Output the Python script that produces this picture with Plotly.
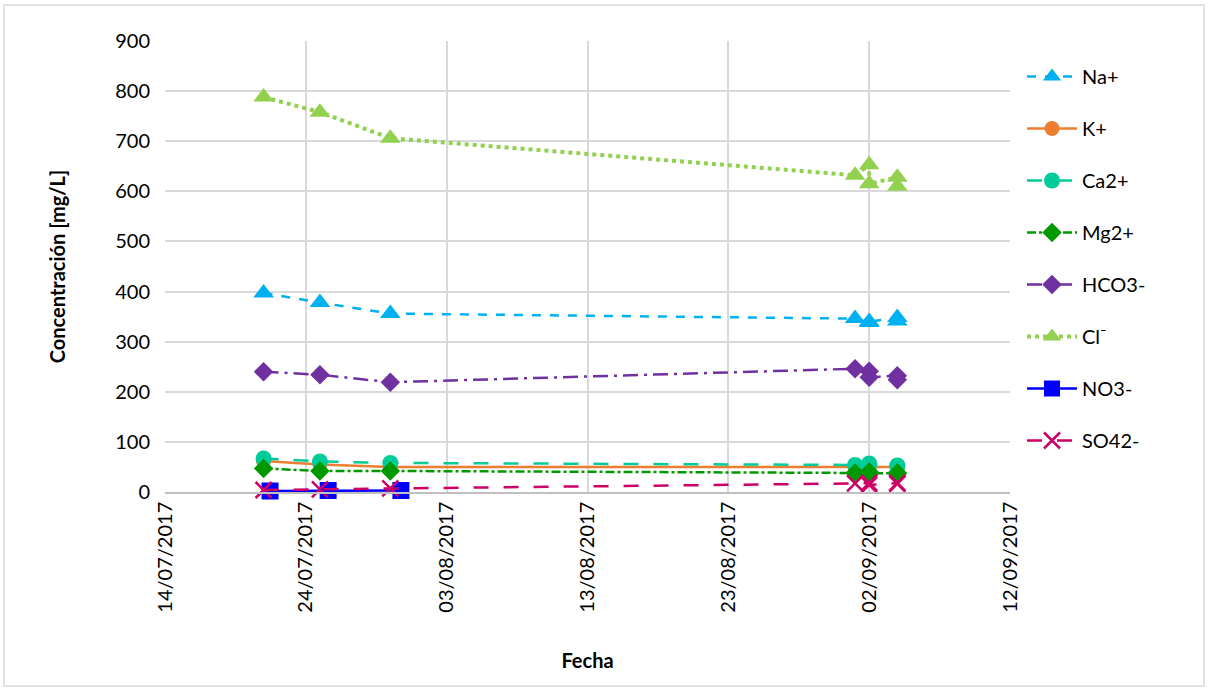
import plotly.graph_objects as go

# Sampling dates (multiple samples on 02/09 and 04/09)
fechas = ["2017-07-21", "2017-07-25", "2017-07-30", "2017-09-01",
          "2017-09-02", "2017-09-02", "2017-09-04", "2017-09-04"]
fechas_no3 = ["2017-07-21 11:00", "2017-07-25 14:00", "2017-07-30 18:00"]

na = [397, 378, 356, 346, 338, 340, 348, 341]
k = [62, 55, 50, 50, 50, 49, 50, 48]
ca = [67, 61, 58, 54, 57, 55, 53, 52]
mg = [47, 42, 42, 38, 40, 37, 38, 37]
hco3 = [240, 234, 219, 246, 241, 229, 232, 224]
cl = [788, 758, 706, 632, 653, 615, 628, 610]
no3 = [2, 3, 3]
so4 = [4, 5, 7, 17, 18, 14, 18, 16]

x_ticks = ["2017-07-14", "2017-07-24", "2017-08-03", "2017-08-13",
           "2017-08-23", "2017-09-02", "2017-09-12"]

FONT = "Lato"

series = [
    ("Na+", fechas, na, "#00B0F0", "dash", "triangle-up", 18, 2.5),
    ("K+", fechas, k, "#ED7D31", "solid", "circle", 15, 2.5),
    ("Ca2+", fechas, ca, "#00CC99", "longdash", "circle", 16, 2.5),
    ("Mg2+", fechas, mg, "#009900", "dashdot", "diamond", 15, 2.5),
    ("HCO3-", fechas, hco3, "#7030A0", "longdashdot", "diamond", 15, 2.5),
    ("Cl\u207b", fechas, cl, "#92D050", "dot", "triangle-up", 18, 4),
    ("NO3-", fechas_no3, no3, "#0000FF", "solid", "square", 17, 2.5),
    ("SO42-", fechas, so4, "#CC0066", "longdash", "x-thin", 16, 2.5),
]

fig = go.Figure()
for i, (name, xs, ys, color, dash, sym, size, lw) in enumerate(series):
    marker = dict(symbol=sym, size=size, color=color)
    if sym == "x-thin":
        marker["line"] = dict(color=color, width=2.5)
    fig.add_trace(go.Scatter(
        x=xs, y=ys, name=name, mode="lines+markers",
        line=dict(color=color, dash=dash, width=lw),
        marker=marker, legendgroup=f"g{i}", cliponaxis=False,
    ))

W, H = 1209, 690
L, R, T, B = 165, 1010, 41, 492
pw, ph = R - L, B - T

def px_x(p):
    return (p - L) / pw

def px_y(p):
    return (B - p) / ph

fig.update_layout(
    width=W, height=H,
    margin=dict(l=L, r=W - R, t=T, b=H - B),
    paper_bgcolor="white", plot_bgcolor="white",
    font=dict(family=FONT, size=20, color="black"),
    showlegend=True,
    legend=dict(
        x=px_x(1022), y=px_y(57), xanchor="left", yanchor="top",
        font=dict(size=20, family=FONT), tracegroupgap=23,
        bgcolor="rgba(0,0,0,0)", itemwidth=50,
    ),
    xaxis=dict(
        type="date", range=["2017-07-14", "2017-09-12"],
        tickvals=x_ticks, tickformat="%d/%m/%Y", tickangle=-90,
        showgrid=True, gridcolor="#D9D9D9", gridwidth=1.5,
        showline=True, linecolor="#BFBFBF", linewidth=1.5,
        zeroline=False, ticks="", tickfont=dict(size=20),
        title=dict(text="<b>Fecha</b>", font=dict(size=20), standoff=42),
    ),
    yaxis=dict(
        range=[0, 900], dtick=100, tick0=0,
        showgrid=True, gridcolor="#D9D9D9", gridwidth=1.5,
        zeroline=False, showline=False, ticks="",
        tickfont=dict(size=20), ticklabelstandoff=14,
        title=dict(text="<b>Concentración [mg/L]</b>", font=dict(size=20), standoff=44),
    ),
    shapes=[dict(
        type="rect", xref="paper", yref="paper",
        x0=px_x(4), x1=px_x(1204), y0=px_y(686), y1=px_y(5),
        line=dict(color="#D9D9D9", width=1.5), fillcolor="rgba(0,0,0,0)",
    )],
)

fig.write_html("out.html")
